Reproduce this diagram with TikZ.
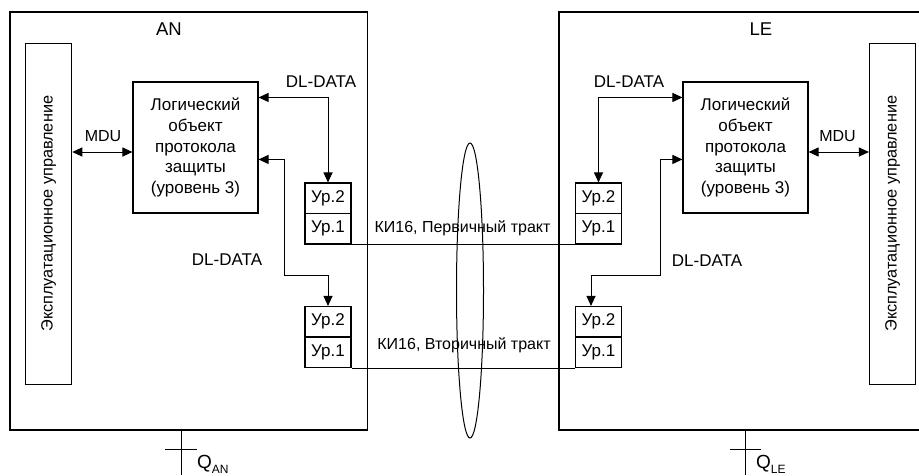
\documentclass[tikz,border=0pt]{standalone}
\usepackage{fontspec}
\setmainfont{Liberation Sans}
\usetikzlibrary{arrows.meta}

\begin{document}
\begin{tikzpicture}[x=1pt,y=-1pt,font=\fontsize{17}{20.8}\selectfont]
\tikzstyle{frame}=[draw,line width=1.1pt,minimum height=418pt,inner sep=0pt]
\tikzstyle{opsbox}=[draw,line width=1.1pt,minimum width=46pt,minimum height=341pt,inner sep=0pt]
\tikzstyle{logic}=[draw,line width=1.1pt,minimum width=125pt,minimum height=131pt,align=center,inner sep=0pt]
\tikzstyle{level}=[draw,line width=1.1pt,minimum width=46pt,minimum height=30.5pt,inner sep=0pt]
\tikzstyle{link}=[draw,line width=1pt]
\tikzstyle{both}=[link,{Triangle[length=10pt,width=9pt]}-{Triangle[length=10pt,width=9pt]}]
\tikzstyle{label}=[inner sep=0pt]
\tikzstyle{small}=[label,font=\fontsize{16}{19}\selectfont]
\tikzstyle{big}=[label,font=\fontsize{18.5}{22}\selectfont]
\useasboundingbox (0,0) rectangle (919,475);
\clip (0,0) rectangle (919,475);
\fill[white] (0,0) rectangle (919,475);
% AN side
\node[frame,minimum width=357.5pt] (an) at (188.75,221) {};
\node[big] (anname) at (169,29.5) {AN};
\node[opsbox] (anops) at (48.7,213.7) {};
\node[rotate=90,font=\fontsize{16.3}{19}\selectfont] (anopstext) at (anops) {Эксплуатационное управление};
\node[logic] (anlogic) at (195.5,147.5) {Логический\\объект\\протокола\\защиты\\(уровень 3)};
\node[level] (anA2) at (328,198.25) {Ур.2};
\node[level] (anA1) at (328,228.75) {Ур.1};
\node[level] (anB2) at (328,321.75) {Ур.2};
\node[level] (anB1) at (328,352.25) {Ур.1};
\coordinate (anbend) at (284,275);
\coordinate (anmdu) at ([yshift=-4.5pt]anlogic.west);
\draw[both] (anmdu) -- (anops.east |- anmdu);
\node[small] (anmdutext) at (103,136) {MDU};
\draw[both] ([yshift=-16pt]anlogic.north east) -| (anA2.north);
\node[label] (andlA) at (321,82) {DL-DATA};
\draw[both] ([yshift=-78pt]anlogic.north east) -| (anbend) -| (anB2.north);
\node[label] (andlB) at (227,260) {DL-DATA};
% LE side
\node[frame,minimum width=371pt] (le) at (744.5,221) {};
\node[big] (lename) at (761,29.5) {LE};
\node[opsbox] (leops) at (892.5,213.7) {};
\node[rotate=90,font=\fontsize{16.3}{19}\selectfont] (leopstext) at (leops) {Эксплуатационное управление};
\node[logic] (lelogic) at (745.5,147.5) {Логический\\объект\\протокола\\защиты\\(уровень 3)};
\node[level] (leA2) at (598.5,198.25) {Ур.2};
\node[level] (leA1) at (598.5,228.75) {Ур.1};
\node[level] (leB2) at (598.5,321.75) {Ур.2};
\node[level] (leB1) at (598.5,352.25) {Ур.1};
\coordinate (lebend) at (660,275);
\coordinate (lemdu) at ([yshift=-4.5pt]lelogic.east);
\draw[both] (lemdu) -- (leops.west |- lemdu);
\node[small] (lemdutext) at (837.5,136) {MDU};
\draw[both] ([yshift=-16pt]lelogic.north west) -| (leA2.north);
\node[label] (ledlA) at (629,82) {DL-DATA};
\draw[both] ([yshift=-78pt]lelogic.north west) -| (lebend) -| ([xshift=-7.5pt]leB2.north);
\node[label] (ledlB) at (707,261) {DL-DATA};
% tracts
\draw[link] (anA1.south east) -- (leA1.south west);
\node[small] (prim) at (462.5,228) {КИ16, Первичный тракт};
\draw[link] (anB1.south east) -- (leB1.south west);
\node[small] (sec) at (464,345) {КИ16, Вторичный тракт};
\draw[link] (470,290.5) ellipse [x radius=13.5,y radius=147.5];
% reference points
\coordinate (qan) at (181,475);
\draw[link] (an.south -| qan) -- (qan);
\draw[link] (165,449) -- (197,449);
\node[label,anchor=base west,font=\fontsize{19}{22}\selectfont] (qanlabel) at (197,468)
  {Q\raisebox{-5pt}{\fontsize{12}{14}\selectfont AN}};
\coordinate (qle) at (745,475);
\draw[link] (le.south -| qle) -- (qle);
\draw[link] (730,449) -- (761,449);
\node[label,anchor=base west,font=\fontsize{19}{22}\selectfont] (qlelabel) at (756,468)
  {Q\raisebox{-5pt}{\fontsize{12}{14}\selectfont LE}};
\end{tikzpicture}
\end{document}
